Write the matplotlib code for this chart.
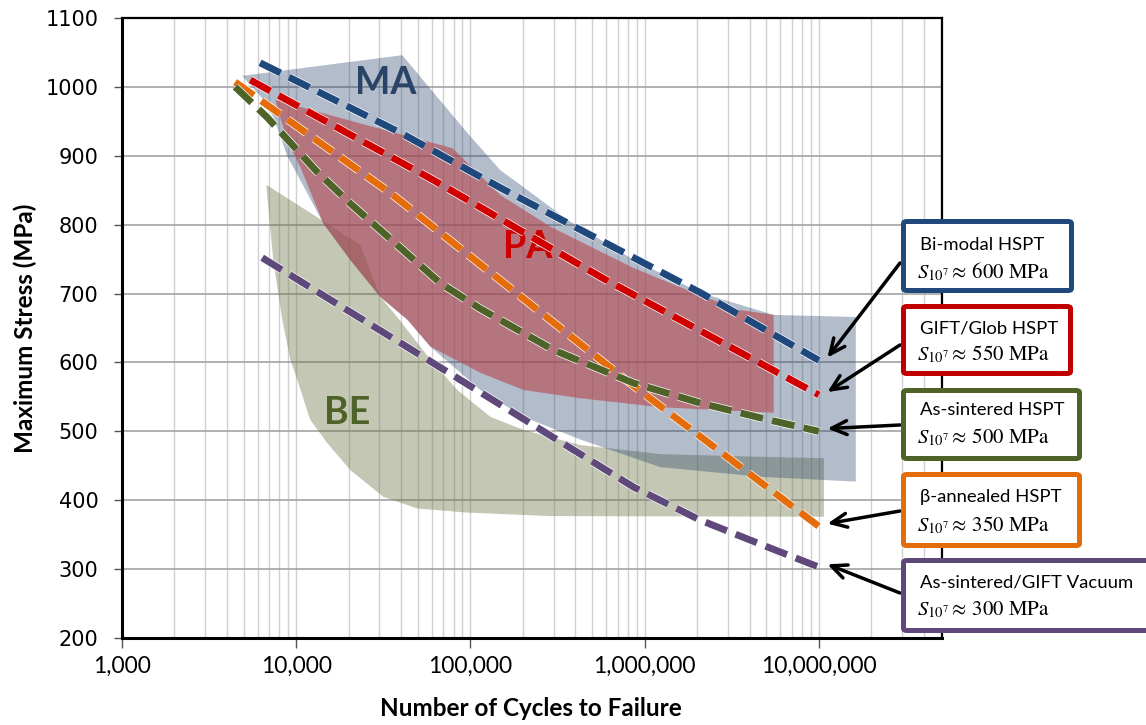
import matplotlib
matplotlib.use("Agg")
import matplotlib.pyplot as plt
import matplotlib.patheffects as pe
from matplotlib.patches import Polygon, FancyBboxPatch
from matplotlib.ticker import FixedLocator, LogLocator, NullFormatter, FuncFormatter

plt.rcParams["mathtext.fontset"] = "stix"

# ---------------- data ----------------
# Scatter bands (cycles, MPa): upper boundary left->right, lower boundary right->left
ma_upper_N = [4900, 40600, 96200, 148600, 186200, 360600, 865000, 2.1e6, 5.51e6, 1.63e7]
ma_upper_S = [1016, 1046, 933, 879, 861, 807, 749, 701, 669, 666]
ma_lower_N = [1.63e7, 4.65e6, 1.23e6, 428500, 201800, 114000, 58900, 43500, 30400, 20400,
              14300, 11560, 8870, 7410, 6310]
ma_lower_S = [427, 434, 448, 488, 521, 560, 623, 662, 695, 749, 802, 846, 900, 956, 985]

pa_upper_N = [7570, 23300, 78900, 100000, 148600, 288400, 865000, 2.1e6, 3.56e6, 5.51e6]
pa_upper_S = [981, 947, 911, 885, 843, 797, 737, 697, 676, 669]
pa_lower_N = [5.51e6, 1.23e6, 428500, 201800, 114000, 58900, 43500, 30400, 20400, 14300,
              10540, 8870]
pa_lower_S = [527, 535, 548, 560, 585, 623, 662, 695, 749, 802, 884, 923]

be_upper_N = [6730, 23300, 30400, 38000, 58900, 84100, 130300, 201800, 428500, 1.23e6,
              4.65e6, 1.07e7]
be_upper_S = [858, 771, 695, 666, 604, 560, 521, 502, 480, 467, 463, 461]
be_lower_N = [1.07e7, 288400, 96200, 49500, 31600, 20400, 15070, 12020, 10140, 9250,
              8320, 7380]
be_lower_S = [376, 377, 382, 388, 405, 444, 483, 517, 575, 604, 662, 749]

# S-N trend curves
bimodal_N = [6200, 40000, 150000, 2.1e6, 1e7]
bimodal_S = [1035, 933, 853, 701, 603]
glob_N = [5450, 61000, 560000, 1e7]
glob_S = [1010, 865, 724, 553]
beta_N = [4460, 34700, 776000, 1e7]
beta_S = [1007, 846, 575, 362]
sint_N = [4460, 6800, 13150, 20400, 67300, 114000, 300000, 865000, 2.09e6, 5.09e6, 1e7]
sint_S = [1000, 956, 877, 831, 715, 678, 618, 570, 541, 517, 500]
vac_N = [6380, 61200, 865000, 2.09e6, 5.09e6, 1e7]
vac_S = [752, 599, 419, 371, 332, 303]

series_names = ["Bi-modal HSPT", "GIFT/Glob HSPT", "As-sintered HSPT",
                "β-annealed HSPT", "As-sintered/GIFT Vacuum"]
endurance = [600, 550, 500, 350, 300]

x_ticks = [1e3, 1e4, 1e5, 1e6, 1e7]
y_ticks = [200, 300, 400, 500, 600, 700, 800, 900, 1000, 1100]

# ---------------- style ----------------
W, H = 1146, 725
C_BLUE = "#1F497D"
C_RED = "#D00000"
C_GREEN = "#4F6228"
C_ORANGE = "#E46C0A"
C_PURPLE = "#5F497A"
SANS = ["Lato", "DejaVu Sans"]

fig = plt.figure(figsize=(W / 100, H / 100), dpi=100)
ax = fig.add_axes([122 / W, 1 - 638 / H, (942 - 122) / W, (638 - 18) / H])
ax.set_xscale("log")
ax.set_xlim(1e3, 10 ** 7.707)
ax.set_ylim(200, 1100)

# grid
ax.set_axisbelow(True)
ax.xaxis.set_major_locator(FixedLocator(x_ticks))
ax.xaxis.set_minor_locator(LogLocator(base=10, subs=range(2, 10), numticks=20))
ax.xaxis.set_minor_formatter(NullFormatter())
ax.yaxis.set_major_locator(FixedLocator(y_ticks))
ax.grid(True, which="major", axis="y", color="#a3a3a3", lw=1.2)
ax.grid(True, which="both", axis="x", color="#d0d0d0", lw=1.0)


def band(upper_N, upper_S, lower_N, lower_S, color, alpha, z):
    pts = list(zip(upper_N, upper_S)) + list(zip(lower_N, lower_S))
    ax.add_patch(Polygon(pts, closed=True, facecolor=color, edgecolor="none",
                         alpha=alpha, zorder=z))


band(be_upper_N, be_upper_S, be_lower_N, be_lower_S, (0.42, 0.46, 0.27), 0.40, 1)
band(ma_upper_N, ma_upper_S, ma_lower_N, ma_lower_S, (0.15, 0.25, 0.42), 0.35, 2)
band(pa_upper_N, pa_upper_S, pa_lower_N, pa_lower_S, (0.72, 0.28, 0.30), 0.60, 3)

ax.text(10 ** 4.511, 1006, "MA", color="#2A4468", fontsize=27, fontweight="bold",
        family=SANS, ha="center", va="center", zorder=4)
ax.text(10 ** 5.328, 768, "PA", color="#CC0000", fontsize=27, fontweight="bold",
        family=SANS, ha="center", va="center", zorder=4)
ax.text(10 ** 4.293, 527, "BE", color="#4F6228", fontsize=27, fontweight="bold",
        family=SANS, ha="center", va="center", zorder=4)

# trend curves
curves = [(bimodal_N, bimodal_S, C_BLUE), (glob_N, glob_S, C_RED),
          (sint_N, sint_S, C_GREEN), (beta_N, beta_S, C_ORANGE),
          (vac_N, vac_S, C_PURPLE)]
draw_order = [4, 2, 3, 1, 0]
for i, (n, s, c) in enumerate(curves):
    ln, = ax.plot(n, s, color=c, lw=5.0, dashes=(3.3, 1.35), dash_capstyle="butt",
                  solid_joinstyle="round", zorder=5 + draw_order[i])
    ln.set_path_effects([pe.Stroke(linewidth=6.0, foreground="white"), pe.Normal()])

# axes styling
for side in ["left", "bottom"]:
    ax.spines[side].set_linewidth(2.2)
for side in ["top", "right"]:
    ax.spines[side].set_linewidth(1.6)
for sp in ax.spines.values():
    sp.set_color("black")
    sp.set_zorder(12)

ax.xaxis.set_major_formatter(FuncFormatter(lambda v, p: f"{int(round(v)):,}"))
ax.tick_params(axis="x", which="major", length=7, width=1.0, color="#555555",
               labelsize=16.5, pad=6)
ax.tick_params(axis="x", which="minor", length=0)
ax.tick_params(axis="y", which="major", length=6, width=1.0, color="#555555",
               labelsize=15, pad=11)
for lab in ax.get_xticklabels():
    lab.set_family(SANS)
for lab in ax.get_yticklabels():
    lab.set_family("DejaVu Sans")

fig.text(531 / W, 1 - 708 / H, "Number of Cycles to Failure", fontsize=17.5,
         fontweight="bold", family=SANS, ha="center", va="center")
fig.text(25 / W, 1 - 328 / H, "Maximum Stress (MPa)", fontsize=17.5,
         fontweight="bold", family=SANS, ha="center", va="center", rotation=90)

# annotation boxes (pixel geometry, top-left origin)
box_px = [(901, 219, 1074, 293), (901, 304, 1073, 376), (901, 388, 1082, 461),
          (901, 472, 1082, 548), (901, 558, 1170, 633)]
line1_y = [245, 329, 410, 497, 583]
line2_y = [272, 354, 437, 525, 610]
arrow_from = [263, 345, 425, 511, 593]
box_colors = [C_BLUE, "#C00000", C_GREEN, C_ORANGE, C_PURPLE]
ends = [(bimodal_N[-1], bimodal_S[-1]), (glob_N[-1], glob_S[-1]),
        (sint_N[-1], sint_S[-1]), (beta_N[-1], beta_S[-1]), (vac_N[-1], vac_S[-1])]

for k in range(5):
    x0, y0, x1, y1 = box_px[k]
    bw = 5
    patch = FancyBboxPatch(((x0 + bw / 2) / W, 1 - (y1 - bw / 2) / H),
                           (x1 - x0 - bw) / W, (y1 - y0 - bw) / H,
                           boxstyle="round,pad=0,rounding_size=0.003",
                           transform=fig.transFigure, facecolor="white",
                           edgecolor=box_colors[k], lw=bw * 0.72, zorder=20)
    fig.add_artist(patch)
    fig.text(920 / W, 1 - line1_y[k] / H, series_names[k], fontsize=13.3,
             family=SANS, ha="left", va="center", zorder=21)
    fig.text(917 / W, 1 - line2_y[k] / H,
             r"$S_{10^7}\approx\,%d\ \mathrm{MPa}$" % endurance[k],
             fontsize=15, ha="left", va="center", zorder=21)
    n_end, s_end = ends[k]
    ax.annotate("", xy=(n_end * 1.12, s_end + 4), xycoords="data",
                xytext=(900 / W, 1 - arrow_from[k] / H), textcoords="figure fraction",
                arrowprops=dict(arrowstyle="->,head_length=0.55,head_width=0.25",
                                lw=2.5, color="black", mutation_scale=20,
                                shrinkA=0, shrinkB=0),
                annotation_clip=False, zorder=19)

fig.savefig("out.png", dpi=100)
